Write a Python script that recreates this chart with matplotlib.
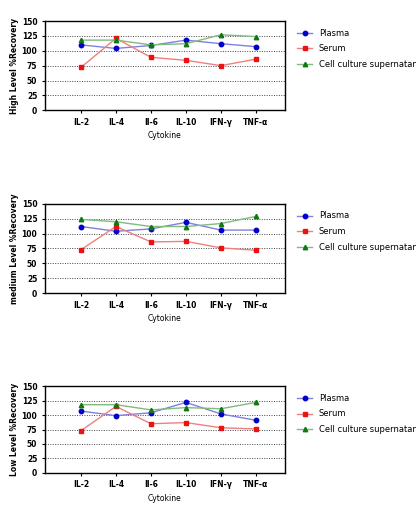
import matplotlib
matplotlib.use("Agg")
import matplotlib.pyplot as plt

categories = ["IL-2", "IL-4", "Il-6", "IL-10", "IFN-γ", "TNF-α"]
high_plasma = [110, 104, 109, 118, 112, 107]
high_serum = [72, 121, 89, 84, 75, 86]
high_sup = [118, 118, 110, 112, 127, 124]
med_plasma = [112, 104, 108, 119, 106, 106]
med_serum = [73, 112, 86, 87, 76, 72]
med_sup = [124, 120, 112, 112, 117, 129]
low_plasma = [107, 99, 104, 122, 102, 91]
low_serum = [73, 115, 85, 87, 78, 76]
low_sup = [118, 118, 109, 113, 111, 122]
ylabels = ["High Level %Recovery", "medium Level %Recovery", "Low Level %Recovery"]
data = [(high_plasma, high_serum, high_sup), (med_plasma, med_serum, med_sup), (low_plasma, low_serum, low_sup)]
series = ["Plasma", "Serum", "Cell culture supernatant"]

fig = plt.figure(figsize=(4.16, 5.15), dpi=100)
rects = [(0.108, 0.786, 0.577, 0.173), (0.108, 0.431, 0.577, 0.173), (0.108, 0.082, 0.577, 0.168)]
styles = [("#0000cc", "o", "#8080dd"), ("#ee1111", "s", "#ee8080"), ("#117711", "^", "#80bb80")]
for i, r in enumerate(rects):
    ax = fig.add_axes(r)
    x = list(range(len(categories)))
    for vals, name, (mc, mk, lc) in zip(data[i], series, styles):
        ax.plot(x, vals, color=lc, lw=1, marker=mk, markersize=3.2, markerfacecolor=mc, markeredgecolor=mc, label=name)
    ax.set_ylim(0, 150)
    ax.set_yticks(range(0, 151, 25))
    ax.set_xlim(-1.03, 5.83)
    ax.set_xticks(x)
    ax.set_xticklabels(categories, fontsize=5.5, fontweight="bold")
    ax.tick_params(axis="y", labelsize=5.5, length=2)
    ax.tick_params(axis="x", length=2)
    for t in ax.get_yticklabels():
        t.set_fontweight("bold")
    for y in range(25, 151, 25):
        ax.axhline(y, color="#444444", ls=(0, (1, 1.5)), lw=0.7, zorder=0)
    for s in ax.spines.values():
        s.set_linewidth(1.0)
    ax.set_ylabel(ylabels[i], fontsize=5.5, fontweight="bold", labelpad=2)
    ax.set_xlabel("Cytokine", fontsize=5.5, labelpad=3)
    ax.legend(loc="upper left", bbox_to_anchor=(1.02, 1.0), frameon=False, fontsize=6, handlelength=1.8, labelspacing=0.8)

fig.savefig("out.png", dpi=100)
